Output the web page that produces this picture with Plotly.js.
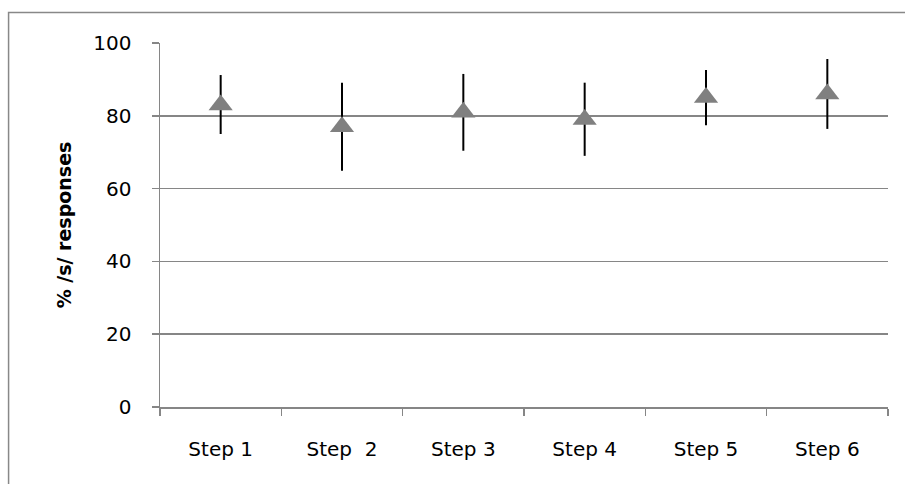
<!DOCTYPE html>
<html>
<head>
<meta charset="utf-8">
<script src="https://cdn.plot.ly/plotly-3.0.1.min.js"></script>
<style>html,body{margin:0;padding:0;background:#fff;}#chart{width:905px;height:484px;}</style>
</head>
<body>
<div id="chart"></div>
<script>
const categories = ["Step 1", "Step  2", "Step 3", "Step 4", "Step 5", "Step 6"];
const values = [83, 77, 81, 79, 85, 86];
const errPlus = [8.2, 12.1, 10.5, 10.1, 7.6, 9.6];
const errMinus = [8.0, 12.1, 10.6, 10.0, 7.6, 9.6];
const yTicks = [0, 20, 40, 60, 80, 100];

const trace = {
  type: "scatter",
  mode: "markers",
  x: categories,
  y: values,
  marker: {symbol: "triangle-up", size: 21, color: "#808080"},
  error_y: {type: "data", symmetric: false, array: errPlus, arrayminus: errMinus,
            color: "#000000", thickness: 2, width: 0},
  showlegend: false,
  hoverinfo: "skip"
};

const layout = {
  width: 905, height: 484,
  margin: {l: 160, r: 17, t: 43, b: 77},
  paper_bgcolor: "#ffffff", plot_bgcolor: "#ffffff",
  font: {family: "DejaVu Sans, sans-serif", color: "#000000", size: 20},
  xaxis: {
    type: "category", range: [-0.5, 5.5], tickson: "boundaries",
    showgrid: false, zeroline: false,
    showline: true, linecolor: "#868686", linewidth: 1.5,
    ticks: "outside", ticklen: 7, tickcolor: "#868686", tickwidth: 1.5,
    ticklabelstandoff: 23, tickfont: {size: 20}
  },
  yaxis: {
    range: [0, 100], tickvals: yTicks, ticktext: yTicks.map(String),
    showgrid: true, gridcolor: "#868686", gridwidth: 1.5, zeroline: false,
    showline: true, linecolor: "#868686", linewidth: 1.5,
    ticks: "outside", ticklen: 7, tickcolor: "#868686", tickwidth: 1.5,
    ticklabelstandoff: 16, tickfont: {size: 20},
    title: {text: "<b>% /s/ responses</b>", font: {size: 19}, standoff: 16}
  },
  shapes: [{
    type: "rect", xref: "paper", yref: "paper",
    x0: -0.208, x1: 1.2, y0: -0.3, y1: 1.084,
    line: {color: "#888888", width: 1.5}, fillcolor: "rgba(0,0,0,0)", layer: "below"
  }]
};

Plotly.newPlot("chart", [trace], layout, {displayModeBar: false, staticPlot: true});
</script>
</body>
</html>
